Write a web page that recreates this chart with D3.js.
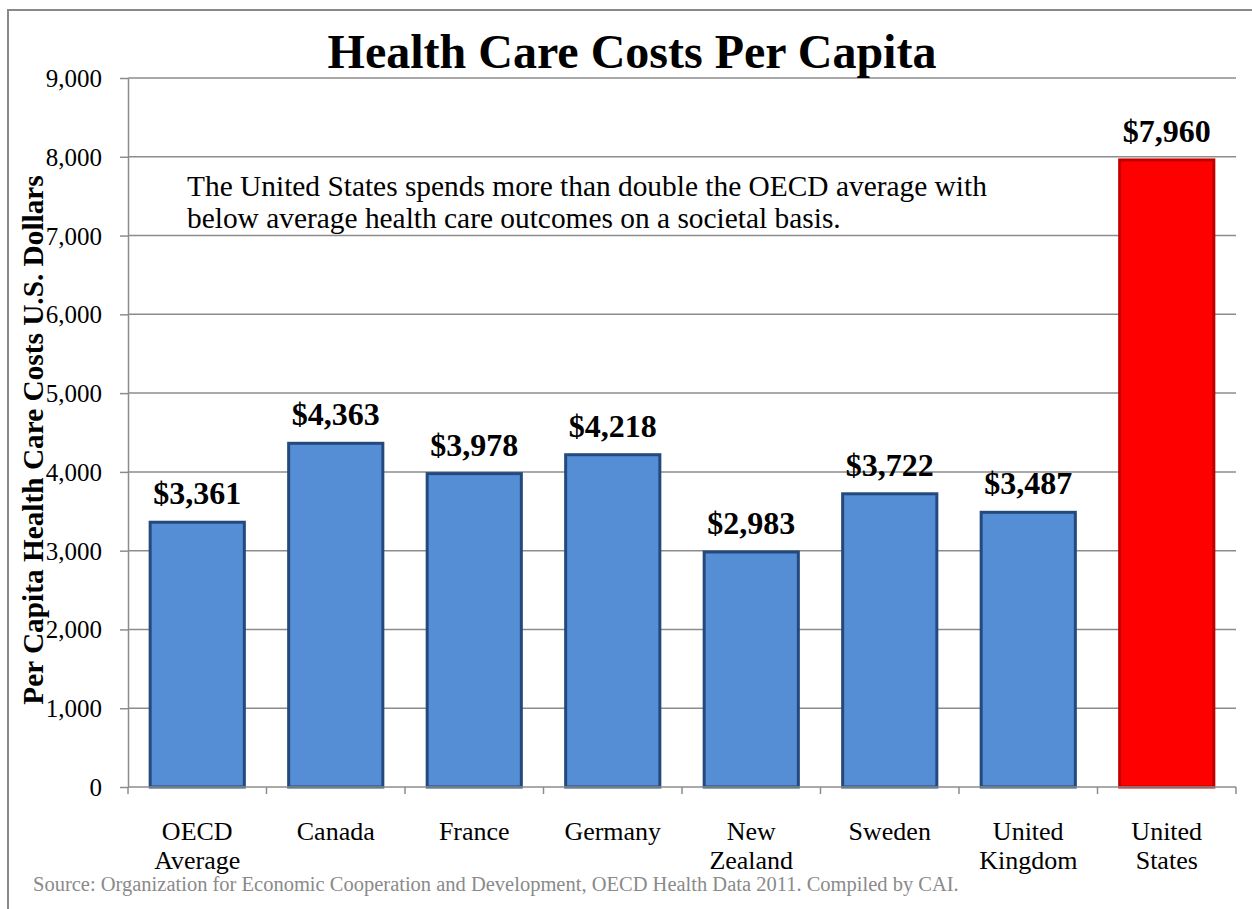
<!DOCTYPE html>
<html>
<head>
<meta charset="utf-8">
<script src="https://cdn.jsdelivr.net/npm/d3@7"></script>
<style>
  html, body { margin: 0; padding: 0; background: #fff; }
  svg { display: block; font-family: "Liberation Serif", "Times New Roman", serif; }
</style>
</head>
<body>
<svg id="chart" width="1252" height="909"></svg>
<script>
// Per capita health care spending, 2011 OECD data
const countries = ["OECD Average", "Canada", "France", "Germany", "New Zealand", "Sweden", "United Kingdom", "United States"];
const countryLines = [["OECD", "Average"], ["Canada"], ["France"], ["Germany"], ["New", "Zealand"], ["Sweden"], ["United", "Kingdom"], ["United", "States"]];
const spending = [3361, 4363, 3978, 4218, 2983, 3722, 3487, 7960];
const yTicks = [0, 1000, 2000, 3000, 4000, 5000, 6000, 7000, 8000, 9000];

const svg = d3.select("#chart");
const W = 1252, H = 909;
const plot = { left: 128, right: 1236, top: 78, bottom: 787 };

// outer frame
svg.append("rect")
  .attr("x", 8).attr("y", 10)
  .attr("width", W + 20).attr("height", H + 20)
  .attr("fill", "none").attr("stroke", "#898989").attr("stroke-width", 2);

const x = d3.scaleBand().domain(countries).range([plot.left, plot.right]).paddingInner(0.32).paddingOuter(0.16);
const y = d3.scaleLinear().domain([0, 9000]).range([plot.bottom, plot.top]);

// gridlines
svg.append("g").selectAll("line").data(yTicks.filter(d => d > 0)).join("line")
  .attr("x1", plot.left).attr("x2", plot.right)
  .attr("y1", d => y(d)).attr("y2", d => y(d))
  .attr("stroke", "#8c8c8c").attr("stroke-width", 1.5);

// y axis
const yAxis = svg.append("g").attr("transform", `translate(${plot.left},0)`)
  .call(d3.axisLeft(y).tickValues(yTicks).tickFormat(d3.format(",")).tickSize(8).tickSizeOuter(0));
yAxis.select(".domain").attr("stroke", "#8c8c8c").attr("stroke-width", 1.5);
yAxis.selectAll(".tick line").attr("stroke", "#8c8c8c").attr("stroke-width", 1.5);
yAxis.selectAll(".tick text")
  .attr("x", -26).attr("dy", "0.34em")
  .attr("font-family", "Liberation Serif").attr("font-size", 25).attr("fill", "#000");

// bars
svg.append("g").selectAll("rect").data(countries).join("rect")
  .attr("x", d => x(d))
  .attr("y", (d, i) => y(spending[i]))
  .attr("width", x.bandwidth())
  .attr("height", (d, i) => y(0) - y(spending[i]))
  .attr("fill", (d, i) => d === "United States" ? "#ff0000" : "#558ed5")
  .attr("stroke", (d, i) => d === "United States" ? "#c00000" : "#23497d")
  .attr("stroke-width", 3);

// x axis baseline and category separators
const xAxis = svg.append("g");
xAxis.append("line")
  .attr("x1", plot.left).attr("x2", plot.right)
  .attr("y1", plot.bottom).attr("y2", plot.bottom)
  .attr("stroke", "#8c8c8c").attr("stroke-width", 1.5);
const step = x.step();
const bounds = d3.range(countries.length + 1).map(i => x(countries[0]) - x.paddingOuter() * step + i * step);
xAxis.selectAll("line.sep").data(bounds).join("line").attr("class", "sep")
  .attr("x1", d => d).attr("x2", d => d)
  .attr("y1", plot.bottom).attr("y2", plot.bottom + 7)
  .attr("stroke", "#8c8c8c").attr("stroke-width", 1.5);

// category labels
const catLabels = svg.append("g").selectAll("text").data(countries).join("text")
  .attr("x", d => x(d) + x.bandwidth() / 2)
  .attr("y", 840)
  .attr("text-anchor", "middle")
  .attr("font-size", 26).attr("fill", "#000");
catLabels.each(function (d, i) {
  const t = d3.select(this);
  countryLines[i].forEach((line, j) => {
    t.append("tspan").attr("x", x(d) + x.bandwidth() / 2).attr("dy", j === 0 ? 0 : 29).text(line);
  });
});

// value labels
svg.append("g").selectAll("text").data(countries).join("text")
  .attr("x", d => x(d) + x.bandwidth() / 2)
  .attr("y", (d, i) => y(spending[i]) - 18)
  .attr("text-anchor", "middle")
  .attr("font-size", 32).attr("font-weight", "bold").attr("fill", "#000")
  .text((d, i) => "$" + d3.format(",")(spending[i]));

// title
svg.append("text")
  .attr("x", 632).attr("y", 68)
  .attr("text-anchor", "middle")
  .attr("font-size", 48).attr("font-weight", "bold")
  .text("Health Care Costs Per Capita");

// y axis title
svg.append("text")
  .attr("transform", "translate(43,440) rotate(-90)")
  .attr("text-anchor", "middle")
  .attr("font-size", 29.3).attr("font-weight", "bold")
  .text("Per Capita Health Care Costs U.S. Dollars");

// annotation
const note = svg.append("text").attr("x", 187).attr("y", 196).attr("font-size", 29.4).attr("fill", "#000");
note.append("tspan").attr("x", 187).attr("dy", 0).text("The United States spends more than double the OECD average with");
note.append("tspan").attr("x", 187).attr("dy", 32).text("below average health care outcomes on a societal basis.");

// source note
svg.append("text")
  .attr("x", 33).attr("y", 891)
  .attr("font-size", 20.5).attr("fill", "#8a8a8a")
  .text("Source: Organization for Economic Cooperation and Development, OECD Health Data 2011. Compiled by CAI.");
</script>
</body>
</html>
